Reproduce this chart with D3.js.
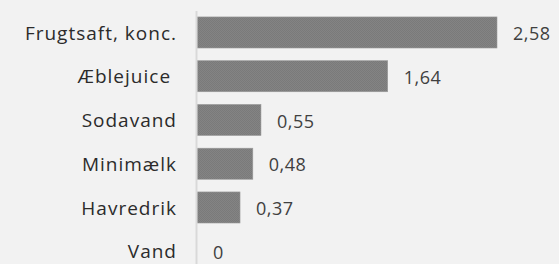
<!DOCTYPE html>
<html>
<head>
<meta charset="utf-8">
<script src="https://d3js.org/d3.v7.min.js"></script>
<style>
    body { margin: 0; background: #f2f2f2; }
    svg { display: block; }
    .cat text { font: 400 19px "Open Sans", sans-serif; fill: #2b2b2b; white-space: pre; letter-spacing: 1px; }
    .val { font: 400 18px "Open Sans", sans-serif; fill: #404040; letter-spacing: 0.5px; }
</style>
</head>
<body>
<script>
    var categories = ["Frugtsaft, konc.", "Æblejuice ", "Sodavand", "Minimælk", "Havredrik", "Vand"];
    var values = [2.58, 1.64, 0.55, 0.48, 0.37, 0];
    var valueLabels = ["2,58", "1,64", "0,55", "0,48", "0,37", "0"];

    var width = 559, height = 264;

    var svg = d3.select("body").append("svg")
        .attr("width", width)
        .attr("height", height);

    svg.append("rect")
        .attr("width", width)
        .attr("height", height)
        .attr("fill", "#f2f2f2");

    // fine dither on the bars, like the original
    var pat = svg.append("defs").append("pattern")
        .attr("id", "dither")
        .attr("width", 2)
        .attr("height", 2)
        .attr("patternUnits", "userSpaceOnUse");
    pat.append("rect").attr("width", 2).attr("height", 2).attr("fill", "#848484");
    pat.append("rect").attr("width", 1).attr("height", 1).attr("fill", "#7a7a7a");
    pat.append("rect").attr("x", 1).attr("y", 1).attr("width", 1).attr("height", 1).attr("fill", "#7a7a7a");

    var x = d3.scaleLinear()
        .domain([0, d3.max(values)])
        .range([197, 497]);

    var y = d3.scaleBand()
        .domain(categories)
        .range([10.6, 273.1])
        .paddingInner(0.29)
        .paddingOuter(0.145);

    var data = categories.map(function(c, i) {
        return { name: c, value: values[i], label: valueLabels[i] };
    });

    svg.selectAll(".bar")
        .data(data)
        .enter().append("rect")
        .attr("class", "bar")
        .attr("x", x(0))
        .attr("y", d => y(d.name))
        .attr("width", d => x(d.value) - x(0))
        .attr("height", y.bandwidth())
        .attr("fill", "url(#dither)")
        .attr("stroke", "#9a9a9a")
        .attr("stroke-width", 0.6);

    var yAxis = d3.axisLeft(y)
        .tickSize(0)
        .tickSizeOuter(0)
        .tickPadding(20);

    var g = svg.append("g")
        .attr("class", "cat")
        .attr("transform", "translate(" + x(0) + ",0)")
        .call(yAxis);
    g.select(".domain")
        .attr("stroke", "#d9d9d9")
        .attr("stroke-width", 2)
        .attr("transform", "translate(-1,0)");
    g.selectAll("text")
        .attr("dy", "0.37em");

    svg.selectAll(".val")
        .data(data)
        .enter().append("text")
        .attr("class", "val")
        .attr("x", d => x(d.value) + 16)
        .attr("y", d => y(d.name) + y.bandwidth() / 2)
        .attr("dy", "0.43em")
        .text(d => d.label);
</script>
</body>
</html>
